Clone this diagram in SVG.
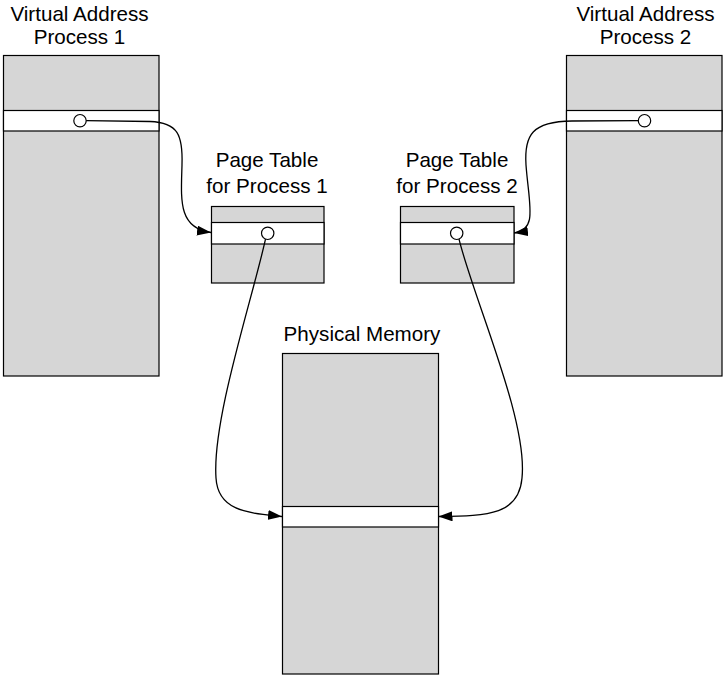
<svg xmlns="http://www.w3.org/2000/svg" width="723" height="676" viewBox="0 0 723 676">
  <style>
    .mem { fill: #d6d6d6; stroke: #000; stroke-width: 1.2; }
    .slot { fill: #fff; stroke: #000; stroke-width: 1.2; }
    .dot { fill: #fff; stroke: #000; stroke-width: 1.2; }
    .lbl { font-family: "Liberation Sans", Arial, sans-serif; font-size: 20.6px; fill: #000; text-anchor: middle; }
    .link { fill: none; stroke: #000; stroke-width: 1.3; marker-end: url(#arrow); }
  </style>
  <defs>
    <marker id="arrow" viewBox="0 0 14 10" refX="14" refY="5" markerWidth="14" markerHeight="10" markerUnits="userSpaceOnUse" orient="auto">
      <path d="M0,0 L14,5 L0,10 Z" fill="#000"/>
    </marker>
  </defs>

  <rect width="723" height="676" fill="#fff"/>

  <!-- virtual address space of process 1 -->
  <g id="vas1">
    <text class="lbl" x="79.5" y="20.5">Virtual Address</text>
    <text class="lbl" x="79.5" y="44">Process 1</text>
    <rect class="mem" x="3.5" y="55.5" width="155.5" height="320.5"/>
    <rect class="slot" x="3.5" y="110.5" width="155.5" height="20.5"/>
    <circle class="dot" cx="80" cy="120.7" r="6.2"/>
  </g>

  <!-- virtual address space of process 2 -->
  <g id="vas2">
    <text class="lbl" x="645.5" y="20.5">Virtual Address</text>
    <text class="lbl" x="645.5" y="44">Process 2</text>
    <rect class="mem" x="566.5" y="55.5" width="155.5" height="320.5"/>
    <rect class="slot" x="566.5" y="110.5" width="155.5" height="20.5"/>
    <circle class="dot" cx="644.5" cy="120.7" r="6.2"/>
  </g>

  <!-- page table of process 1 -->
  <g id="pt1">
    <text class="lbl" x="267" y="167">Page Table</text>
    <text class="lbl" x="267" y="192.5">for Process 1</text>
    <rect class="mem" x="211.5" y="206.5" width="112.5" height="76.5"/>
    <rect class="slot" x="211.5" y="222.5" width="112.5" height="21.5"/>
    <circle class="dot" cx="267.7" cy="233.3" r="6.2"/>
  </g>

  <!-- page table of process 2 -->
  <g id="pt2">
    <text class="lbl" x="457" y="167">Page Table</text>
    <text class="lbl" x="457" y="192.5">for Process 2</text>
    <rect class="mem" x="400.5" y="206.5" width="113.5" height="76.5"/>
    <rect class="slot" x="400.5" y="222.5" width="113.5" height="21.5"/>
    <circle class="dot" cx="456.7" cy="233.3" r="6.2"/>
  </g>

  <!-- physical memory -->
  <g id="phys">
    <text class="lbl" x="362" y="340.5">Physical Memory</text>
    <rect class="mem" x="282.5" y="353.5" width="156" height="320.5"/>
    <rect class="slot" x="282.5" y="506.5" width="156" height="20.5"/>
  </g>

  <g id="links">
    <path class="link" d="M86.2,120.7 L150,121.5 C178,122.5 183,135 182,165 C181,200 178,228 211,232.5"/>
    <path class="link" d="M638.3,120.7 L572,121 C532,121.5 524,135 526,165 C529,205 538,230 514,233"/>
    <path class="link" d="M265.5,239.2 C252,300 212,420 216,478 C218,512 250,513 282,516.5"/>
    <path class="link" d="M459,239.2 C474,300 528,420 522,478 C519,514 490,516 438.5,516.5"/>
  </g>
</svg>
